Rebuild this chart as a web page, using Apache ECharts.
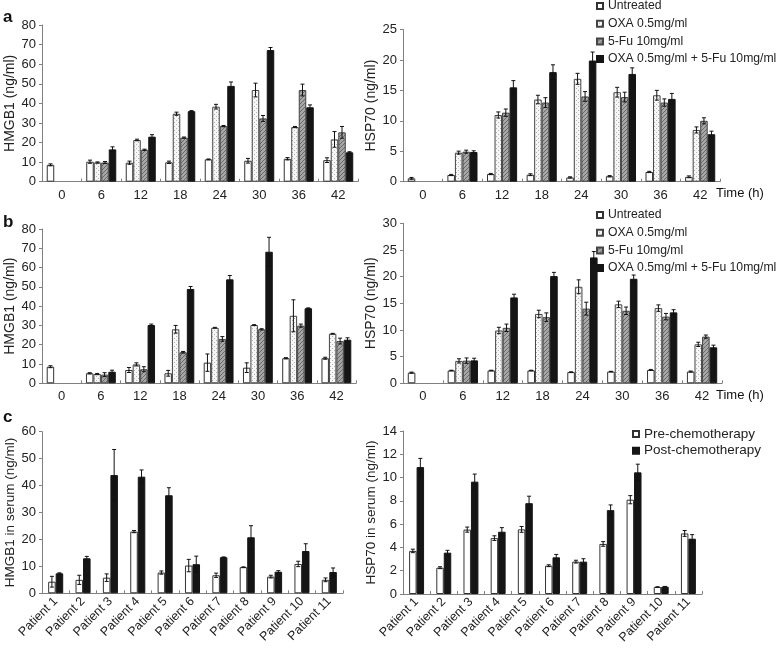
<!DOCTYPE html>
<html><head><meta charset="utf-8">
<script src="https://cdn.jsdelivr.net/npm/echarts@6/dist/echarts.min.js"></script>
<style>html,body{margin:0;padding:0;background:#fff}#c{width:784px;height:651px}</style>
</head><body><div id="c"></div>
<script>
// ---------- data ----------
const timeCats = ['0','6','12','18','24','30','36','42'];
const seriesNames = ['Untreated','OXA 0.5mg/ml','5-Fu 10mg/ml','OXA 0.5mg/ml + 5-Fu 10mg/ml'];

// panel a, HMGB1
const aHmgbUntreated = [8.6, 10.2, 9.7, 9.9, 11.4, 10.7, 11.7, 11.0];
const aHmgbUntreatedErr = [0.5, 0.8, 0.8, 0.6, 0.2, 1.2, 0.6, 1.2];
const aHmgbOxa = [null, 9.8, 21.3, 34.7, 38.3, 46.8, 27.9, 21.6];
const aHmgbOxaErr = [null, 0.3, 0.4, 0.8, 1.2, 3.5, 0.3, 4.0];
const aHmgbFu = [null, 9.8, 16.3, 22.5, 28.4, 32.3, 46.8, 25.2];
const aHmgbFuErr = [null, 0.5, 0.3, 0.3, 0.3, 1.5, 3.0, 3.0];
const aHmgbCombo = [null, 16.5, 23.0, 36.0, 48.9, 67.2, 38.0, 15.0];
const aHmgbComboErr = [null, 1.3, 1.0, 0.3, 2.0, 1.3, 1.2, 0.3];

// panel a, HSP70
const aHspUntreated = [0.55, 1.1, 1.26, 1.15, 0.7, 0.9, 1.6, 0.8];
const aHspUntreatedErr = [0.15, 0.1, 0.1, 0.15, 0.1, 0.1, 0.1, 0.15];
const aHspOxa = [null, 4.77, 10.96, 13.5, 16.9, 14.7, 14.2, 8.5];
const aHspOxaErr = [null, 0.25, 0.5, 0.7, 0.9, 0.8, 0.8, 0.5];
const aHspFu = [null, 4.93, 11.34, 13.0, 14.0, 13.9, 13.0, 10.0];
const aHspFuErr = [null, 0.25, 0.6, 0.8, 0.8, 0.8, 0.6, 0.5];
const aHspCombo = [null, 4.88, 15.5, 18.0, 19.9, 17.7, 13.6, 7.8];
const aHspComboErr = [null, 0.2, 1.1, 1.2, 1.4, 1.0, 0.9, 0.5];

// panel b, HMGB1
const bHmgbUntreated = [8.6, 5.2, 6.9, 5.2, 10.7, 8.1, 13.0, 13.0];
const bHmgbUntreatedErr = [0.5, 0.3, 1.3, 1.5, 4.5, 2.5, 0.3, 0.5];
const bHmgbOxa = [null, 4.8, 9.8, 28.0, 28.8, 30.2, 35.0, 25.7];
const bHmgbOxaErr = [null, 0.3, 0.8, 2.0, 0.2, 0.2, 8.3, 0.2];
const bHmgbFu = [null, 4.5, 7.3, 16.1, 23.0, 28.0, 29.9, 21.9];
const bHmgbFuErr = [null, 1.0, 1.3, 0.4, 1.2, 0.3, 0.8, 1.5];
const bHmgbCombo = [null, 6.0, 30.2, 48.9, 53.9, 68.2, 38.9, 22.6];
const bHmgbComboErr = [null, 0.8, 0.5, 1.3, 2.0, 7.5, 0.2, 1.0];

// panel b, HSP70
const bHspUntreated = [2.0, 2.4, 2.4, 2.4, 2.1, 2.2, 2.5, 2.2];
const bHspUntreatedErr = [0.1, 0.05, 0.05, 0.05, 0.05, 0.05, 0.1, 0.1];
const bHspOxa = [null, 4.2, 9.9, 13.0, 18.1, 14.8, 14.1, 7.3];
const bHspOxaErr = [null, 0.4, 0.6, 0.7, 1.3, 0.6, 0.6, 0.4];
const bHspFu = [null, 4.25, 10.4, 12.4, 14.0, 13.6, 12.5, 8.75];
const bHspFuErr = [null, 0.5, 0.7, 0.8, 1.2, 0.7, 0.6, 0.3];
const bHspCombo = [null, 4.3, 16.1, 20.1, 23.6, 19.6, 13.3, 6.75];
const bHspComboErr = [null, 0.4, 0.6, 0.7, 1.1, 0.7, 0.5, 0.4];

// panel c
const patients = ['Patient 1','Patient 2','Patient 3','Patient 4','Patient 5','Patient 6','Patient 7','Patient 8','Patient 9','Patient 10','Patient 11'];
const cNames = ['Pre-chemotherapy','Post-chemotherapy'];
const cHmgbPre = [4.3, 5.0, 5.8, 22.9, 7.7, 10.3, 6.7, 9.7, 6.2, 10.9, 5.0];
const cHmgbPreErr = [2.0, 1.7, 1.4, 0.4, 0.6, 2.3, 0.8, 0.1, 0.5, 1.0, 0.7];
const cHmgbPost = [7.4, 13.0, 43.9, 43.3, 36.4, 10.8, 13.4, 20.8, 8.0, 15.7, 7.9];
const cHmgbPostErr = [0.2, 0.7, 9.5, 2.5, 2.8, 3.0, 0.1, 4.3, 0.4, 2.7, 1.5];
const cHspPre = [3.7, 2.26, 5.53, 4.8, 5.55, 2.43, 2.78, 4.3, 8.1, 0.6, 5.2];
const cHspPreErr = [0.15, 0.08, 0.22, 0.2, 0.25, 0.08, 0.12, 0.2, 0.35, 0.02, 0.25];
const cHspPost = [10.9, 3.55, 9.65, 5.35, 7.8, 3.15, 2.78, 7.2, 10.45, 0.63, 4.75];
const cHspPostErr = [0.75, 0.2, 0.65, 0.35, 0.6, 0.25, 0.25, 0.45, 0.7, 0.02, 0.35];

// ---------- styles ----------
const FONT = "'Liberation Sans', Arial, sans-serif";
function pat(bg, fg, pts, size) {
  const c = document.createElement('canvas'); c.width = c.height = size;
  const x = c.getContext('2d'); x.fillStyle = bg; x.fillRect(0,0,size,size);
  x.fillStyle = fg; pts.forEach(p => x.fillRect(p[0], p[1], 1, 1)); return c;
}
const oxaPat = {image: pat('#f6f6f6', '#b4b4b4', [[0,0],[2,2]], 4), repeat: 'repeat'};
const fuPat = {image: pat('#a6a6a6', '#6a6a6a', [[0,3],[1,2],[2,1],[3,0]], 4), repeat: 'repeat'};
const styles = [
  {color:'#fff', borderColor:'#333', borderWidth:1},
  {color:oxaPat, borderColor:'#444', borderWidth:1},
  {color:fuPat, borderColor:'#444', borderWidth:1},
  {color:'#151515', borderColor:'#151515', borderWidth:1}
];
const cStyles = [styles[0], styles[3]];

const grids = [
  {left:42, top:25, width:316, height:156.7},
  {left:403, top:29.5, width:317, height:152.2},
  {left:42, top:229, width:314, height:154.3},
  {left:403, top:223.3, width:319, height:160},
  {left:42, top:431.7, width:301, height:161.6},
  {left:403, top:431, width:299, height:163}
];
const yCfg = [
  {max:80, interval:10, name:'HMGB1 (ng/ml)', nfs:14},
  {max:25, interval:5, name:'HSP70 (ng/ml)', nfs:14},
  {max:80, interval:10, name:'HMGB1 (ng/ml)', nfs:14},
  {max:30, interval:5, name:'HSP70 (ng/ml)', nfs:14},
  {max:60, interval:10, name:'HMGB1 in serum (ng/ml)', nfs:13.5},
  {max:14, interval:2, name:'HSP70 in serum (ng/ml)', nfs:13.5}
];
const axisCol = '#808080';
const xAxes = grids.map((g, i) => ({
  type:'category', gridIndex:i, data: i < 4 ? timeCats : patients,
  axisLine:{lineStyle:{color:axisCol}},
  axisTick:{show:true, inside:true, length:3, lineStyle:{color:axisCol}},
  axisLabel: i < 4 ? {fontFamily:FONT, fontSize:13, color:'#222', margin:7}
                   : {fontFamily:FONT, fontSize:12.5, color:'#222', margin:6, rotate:45, interval:0}
}));
const yAxes = yCfg.map((c, i) => ({
  type:'value', gridIndex:i, min:0, max:c.max, interval:c.interval,
  name:c.name, nameLocation:'middle', nameGap:23,
  nameTextStyle:{fontFamily:FONT, fontSize:c.nfs, color:'#222'},
  splitLine:{show:false},
  axisLine:{show:true, lineStyle:{color:axisCol}},
  axisTick:{show:true, length:3, lineStyle:{color:axisCol}},
  axisLabel:{fontFamily:FONT, fontSize:13, color:'#222', margin:6}
}));

const series = [];
function addGroup(gi, names, vals, errs, stys, gap) {
  const n = vals.length;
  const gr = parseFloat(gap) / 100;
  vals.forEach((v, k) => {
    series.push({type:'bar', name:names[k], xAxisIndex:gi, yAxisIndex:gi, data:v,
      barGap:'0%', barCategoryGap:gap, itemStyle:stys[k], z:2});
  });
  vals.forEach((v, k) => {
    const data = v.map((val, i) => (val == null || errs[k][i] == null) ? null : [i, val, errs[k][i]]).filter(Boolean);
    series.push({type:'custom', xAxisIndex:gi, yAxisIndex:gi, data, z:5, silent:true,
      encode:{x:0, y:1},
      renderItem:(params, api) => {
        const i = api.value(0), val = api.value(1), e = api.value(2);
        const band = api.size([1, 0])[0];
        const bw = band * (1 - gr) / n;
        const cx = api.coord([i, val])[0] + (k - (n - 1) / 2) * bw;
        const yT = api.coord([i, val + e])[1], yB = api.coord([i, Math.max(0, val - e)])[1];
        const cap = 2, st = {stroke:'#111', lineWidth:1};
        return {type:'group', children:[
          {type:'line', shape:{x1:cx, y1:yT, x2:cx, y2:yB}, style:st},
          {type:'line', shape:{x1:cx-cap, y1:yT, x2:cx+cap, y2:yT}, style:st},
          {type:'line', shape:{x1:cx-cap, y1:yB, x2:cx+cap, y2:yB}, style:st}
        ]};
      }});
  });
}
addGroup(0, seriesNames, [aHmgbUntreated, aHmgbOxa, aHmgbFu, aHmgbCombo], [aHmgbUntreatedErr, aHmgbOxaErr, aHmgbFuErr, aHmgbComboErr], styles, '24%');
addGroup(1, seriesNames, [aHspUntreated, aHspOxa, aHspFu, aHspCombo], [aHspUntreatedErr, aHspOxaErr, aHspFuErr, aHspComboErr], styles, '24%');
addGroup(2, seriesNames, [bHmgbUntreated, bHmgbOxa, bHmgbFu, bHmgbCombo], [bHmgbUntreatedErr, bHmgbOxaErr, bHmgbFuErr, bHmgbComboErr], styles, '24%');
addGroup(3, seriesNames, [bHspUntreated, bHspOxa, bHspFu, bHspCombo], [bHspUntreatedErr, bHspOxaErr, bHspFuErr, bHspComboErr], styles, '24%');
addGroup(4, cNames, [cHmgbPre, cHmgbPost], [cHmgbPreErr, cHmgbPostErr], cStyles, '45%');
addGroup(5, cNames, [cHspPre, cHspPost], [cHspPreErr, cHspPostErr], cStyles, '45%');

const legBase = {orient:'vertical', icon:'rect', itemWidth:6, itemHeight:6, itemGap:3.7, padding:0,
  textStyle:{fontFamily:FONT, fontSize:12.2, color:'#222', lineHeight:14}, selectedMode:false};
const legends = [
  Object.assign({}, legBase, {data:seriesNames, left:596, top:-1}),
  Object.assign({}, legBase, {data:seriesNames, left:596, top:208}),
  Object.assign({}, legBase, {data:cNames, left:632, top:427, itemGap:2.7,
    textStyle:{fontFamily:FONT, fontSize:13.5, color:'#222', lineHeight:14}})
];

const txt = (t, x, y, fs, fw, align) => ({type:'text', x, y,
  style:{text:t, x:0, y:0, fontFamily:FONT, fontSize:fs, fontWeight:fw, fill:'#111', textAlign:align||'left', textVerticalAlign:'middle'}});

const chart = echarts.init(document.getElementById('c'));
chart.setOption({
  animation:false,
  backgroundColor:'#fff',
  grid:grids, xAxis:xAxes, yAxis:yAxes, series, legend:legends,
  graphic:[
    txt('a', 3, 17, 17, 'bold'),
    txt('b', 3, 222, 17, 'bold'),
    txt('c', 3, 417, 17, 'bold'),
    txt('Time (h)', 716, 193, 13, 'normal'),
    txt('Time (h)', 716, 395, 13, 'normal')
  ]
});
</script></body></html>
